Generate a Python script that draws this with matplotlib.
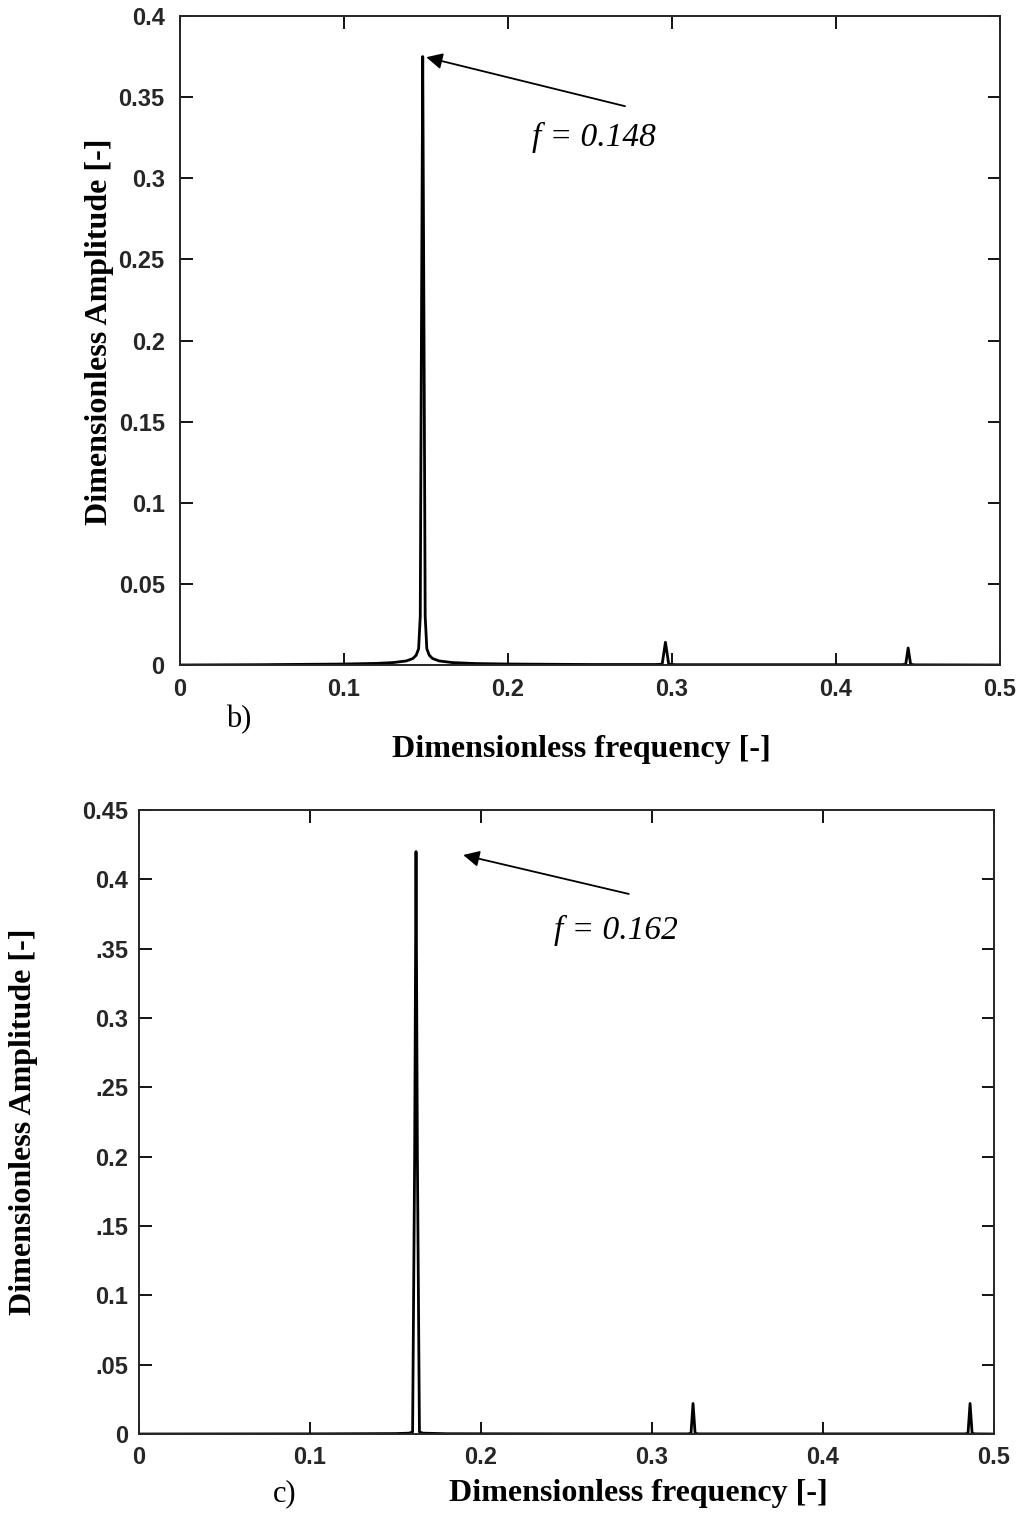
import matplotlib
matplotlib.use("Agg")
import matplotlib.pyplot as plt

# spectrum b)
freq_b = [0, 0.05, 0.10, 0.12, 0.13, 0.138, 0.142, 0.144, 0.1455, 0.1465, 0.1472, 0.148,
          0.1488, 0.1495, 0.1505, 0.152, 0.154, 0.158, 0.166, 0.18, 0.20, 0.25, 0.29,
          0.294, 0.296, 0.298, 0.302, 0.35, 0.44, 0.4425, 0.444, 0.4455, 0.448, 0.5]
amp_b = [0, 0.0002, 0.0006, 0.0010, 0.0015, 0.0025, 0.0040, 0.0060, 0.010, 0.030, 0.200, 0.375,
         0.200, 0.030, 0.010, 0.0060, 0.0040, 0.0025, 0.0015, 0.0009, 0.0006, 0.0003, 0.0003,
         0.0005, 0.014, 0.0005, 0.0002, 0.0002, 0.0002, 0.0004, 0.0105, 0.0004, 0.0001, 0]

# spectrum c)
freq_c = [0, 0.10, 0.15, 0.158, 0.160, 0.1612, 0.162, 0.1628, 0.164, 0.166, 0.18, 0.25,
          0.321, 0.3228, 0.324, 0.3252, 0.327, 0.40, 0.483, 0.4848, 0.486, 0.4872, 0.489, 0.5]
amp_c = [0, 0.0001, 0.0003, 0.0006, 0.0015, 0.20, 0.42, 0.20, 0.0015, 0.0006, 0.0002, 0.0001,
         0.0001, 0.0005, 0.022, 0.0005, 0.0001, 0.0001, 0.0001, 0.0005, 0.022, 0.0005, 0.0001, 0]

yticks_b = [0, 0.05, 0.1, 0.15, 0.2, 0.25, 0.3, 0.35, 0.4]
ytick_labels_b = ['0', '0.05', '0.1', '0.15', '0.2', '0.25', '0.3', '0.35', '0.4']
yticks_c = [0, 0.05, 0.1, 0.15, 0.2, 0.25, 0.3, 0.35, 0.4, 0.45]
ytick_labels_c = ['0', '.05', '0.1', '.15', '0.2', '.25', '0.3', '.35', '0.4', '0.45']
xticks = [0, 0.1, 0.2, 0.3, 0.4, 0.5]
xtick_labels = ['0', '0.1', '0.2', '0.3', '0.4', '0.5']

W, H = 1022, 1517
fig = plt.figure(figsize=(W / 100, H / 100), dpi=100)

tick_font = dict(family='Liberation Sans', weight='bold', size=17, color='#262626')
label_font = dict(family='Liberation Serif', weight='bold', size=23)


def style(ax, yticks, ylabels, ymax, ypad):
    ax.set_xlim(0, 0.5)
    ax.set_ylim(0, ymax)
    ax.set_xticks(xticks)
    ax.set_xticklabels(xtick_labels, fontdict=tick_font)
    ax.set_yticks(yticks)
    ax.set_yticklabels(ylabels, fontdict=tick_font)
    ax.tick_params(direction='in', length=9, width=1.3, top=True, right=True)
    ax.tick_params(axis='x', pad=9)
    ax.tick_params(axis='y', pad=ypad)
    for s in ax.spines.values():
        s.set_linewidth(1.4)
        s.set_color('#262626')


ax1 = fig.add_axes([180 / W, 1 - 665 / H, 820 / W, 649 / H])
ax1.plot(freq_b, amp_b, color='black', lw=2)
style(ax1, yticks_b, ytick_labels_b, 0.4, 11)
ax1.annotate('', xy=(0.1485, 0.375), xytext=(0.273, 0.344),
             arrowprops=dict(arrowstyle='-|>', color='black', lw=1.3, mutation_scale=24))
ax1.text(0.2525, 0.325, 'f = 0.148', family='Liberation Serif', style='italic', size=24,
         ha='center', va='center')

ax2 = fig.add_axes([139 / W, 1 - 1434 / H, 855 / W, 624 / H])
ax2.plot(freq_c, amp_c, color='black', lw=2)
style(ax2, yticks_c, ytick_labels_c, 0.45, 8)
ax2.annotate('', xy=(0.188, 0.418), xytext=(0.288, 0.389),
             arrowprops=dict(arrowstyle='-|>', color='black', lw=1.3, mutation_scale=24))
ax2.text(0.279, 0.363, 'f = 0.162', family='Liberation Serif', style='italic', size=24,
         ha='center', va='center')

fig.text(100 / W, 1 - 332 / H, 'Dimensionless Amplitude [-]', rotation=90,
         ha='center', va='center', **label_font)
fig.text(24 / W, 1 - 1122 / H, 'Dimensionless Amplitude [-]', rotation=90,
         ha='center', va='center', **label_font)
fig.text(581 / W, 1 - 750 / H, 'Dimensionless frequency [-]', ha='center', va='center', **label_font)
fig.text(239 / W, 1 - 720 / H, 'b)', ha='center', va='center', family='Liberation Serif', size=22)
fig.text(638 / W, 1 - 1494 / H, 'Dimensionless frequency [-]', ha='center', va='center', **label_font)
fig.text(285 / W, 1 - 1494 / H, 'c)', ha='center', va='center', family='Liberation Serif', size=22)

fig.savefig('out.png', dpi=100)
